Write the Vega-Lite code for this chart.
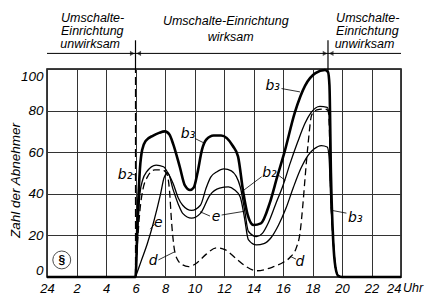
{
  "$schema": "https://vega.github.io/schema/vega-lite/v6.json",
  "width": 354,
  "height": 208,
  "autosize": {"type": "none"},
  "padding": {"left": 47, "top": 69, "right": 24, "bottom": 18},
  "background": "white",
  "config": {
    "view": {"stroke": "black", "strokeWidth": 1.5},
    "font": "Liberation Sans",
    "text": {"font": "Liberation Sans", "fontStyle": "italic", "fontSize": 13, "color": "black"},
    "axisX": {"labelOverlap": false, "labelBound": false, "labelFlush": false},
    "axis": {"labelOverlap": false}
  },
  "datasets": {
    "curves": [
      {"s": "b3", "h": 0, "v": 0}, {"s": "b3", "h": 6, "v": 0}, {"s": "b3", "h": 6.15, "v": 30}, {"s": "b3", "h": 6.3, "v": 52}, {"s": "b3", "h": 6.45, "v": 61}, {"s": "b3", "h": 6.7, "v": 65.5}, {"s": "b3", "h": 7.2, "v": 68}, {"s": "b3", "h": 7.6, "v": 69.3}, {"s": "b3", "h": 8, "v": 70}, {"s": "b3", "h": 8.3, "v": 68.5}, {"s": "b3", "h": 8.55, "v": 64}, {"s": "b3", "h": 9.0, "v": 53}, {"s": "b3", "h": 9.35, "v": 44}, {"s": "b3", "h": 9.7, "v": 41.8}, {"s": "b3", "h": 9.95, "v": 43}, {"s": "b3", "h": 10.2, "v": 50}, {"s": "b3", "h": 10.5, "v": 61}, {"s": "b3", "h": 10.8, "v": 66}, {"s": "b3", "h": 11.3, "v": 68}, {"s": "b3", "h": 11.8, "v": 68}, {"s": "b3", "h": 12.6, "v": 63}, {"s": "b3", "h": 12.95, "v": 58}, {"s": "b3", "h": 13.3, "v": 41}, {"s": "b3", "h": 13.6, "v": 30}, {"s": "b3", "h": 14.0, "v": 25}, {"s": "b3", "h": 14.5, "v": 25.8}, {"s": "b3", "h": 15.1, "v": 35.5}, {"s": "b3", "h": 15.6, "v": 48}, {"s": "b3", "h": 16.1, "v": 60}, {"s": "b3", "h": 16.8, "v": 79}, {"s": "b3", "h": 17.5, "v": 92}, {"s": "b3", "h": 18.2, "v": 98}, {"s": "b3", "h": 18.85, "v": 99.5}, {"s": "b3", "h": 19.05, "v": 98.5}, {"s": "b3", "h": 19.15, "v": 92}, {"s": "b3", "h": 19.25, "v": 50}, {"s": "b3", "h": 19.4, "v": 18}, {"s": "b3", "h": 19.55, "v": 5}, {"s": "b3", "h": 19.75, "v": 0.5}, {"s": "b3", "h": 20, "v": 0}, {"s": "b3", "h": 24, "v": 0},

      {"s": "b2", "h": 6, "v": 0}, {"s": "b2", "h": 6.15, "v": 22}, {"s": "b2", "h": 6.3, "v": 40}, {"s": "b2", "h": 6.5, "v": 47}, {"s": "b2", "h": 6.75, "v": 50.5}, {"s": "b2", "h": 7.4, "v": 53.8}, {"s": "b2", "h": 7.9, "v": 53}, {"s": "b2", "h": 8.2, "v": 50}, {"s": "b2", "h": 8.55, "v": 45}, {"s": "b2", "h": 8.9, "v": 38}, {"s": "b2", "h": 9.2, "v": 34.5}, {"s": "b2", "h": 9.8, "v": 32}, {"s": "b2", "h": 10.4, "v": 34.5}, {"s": "b2", "h": 10.8, "v": 43}, {"s": "b2", "h": 11.1, "v": 48}, {"s": "b2", "h": 11.5, "v": 50.5}, {"s": "b2", "h": 12.0, "v": 52}, {"s": "b2", "h": 12.5, "v": 51}, {"s": "b2", "h": 13.1, "v": 43.4}, {"s": "b2", "h": 13.4, "v": 32}, {"s": "b2", "h": 13.65, "v": 22}, {"s": "b2", "h": 14.2, "v": 19.4}, {"s": "b2", "h": 14.6, "v": 21}, {"s": "b2", "h": 15, "v": 26}, {"s": "b2", "h": 15.5, "v": 35}, {"s": "b2", "h": 16, "v": 44}, {"s": "b2", "h": 16.5, "v": 55}, {"s": "b2", "h": 17, "v": 65}, {"s": "b2", "h": 17.5, "v": 74}, {"s": "b2", "h": 17.9, "v": 79}, {"s": "b2", "h": 18.5, "v": 82}, {"s": "b2", "h": 19.0, "v": 81.5}, {"s": "b2", "h": 19.12, "v": 78}, {"s": "b2", "h": 19.22, "v": 45}, {"s": "b2", "h": 19.4, "v": 18}, {"s": "b2", "h": 19.55, "v": 5}, {"s": "b2", "h": 19.75, "v": 0.5}, {"s": "b2", "h": 20, "v": 0},

      {"s": "e", "h": 6, "v": 0}, {"s": "e", "h": 6.4, "v": 8}, {"s": "e", "h": 6.8, "v": 16}, {"s": "e", "h": 7.25, "v": 27}, {"s": "e", "h": 7.7, "v": 40}, {"s": "e", "h": 7.95, "v": 48}, {"s": "e", "h": 8.2, "v": 50}, {"s": "e", "h": 8.55, "v": 42}, {"s": "e", "h": 8.9, "v": 35}, {"s": "e", "h": 9.2, "v": 30.6}, {"s": "e", "h": 9.8, "v": 28.3}, {"s": "e", "h": 10.4, "v": 30.6}, {"s": "e", "h": 11.05, "v": 39.4}, {"s": "e", "h": 11.7, "v": 42.7}, {"s": "e", "h": 12.3, "v": 43.3}, {"s": "e", "h": 12.7, "v": 42}, {"s": "e", "h": 13.1, "v": 38.5}, {"s": "e", "h": 13.4, "v": 28}, {"s": "e", "h": 13.65, "v": 18}, {"s": "e", "h": 14.2, "v": 15.4}, {"s": "e", "h": 14.7, "v": 16}, {"s": "e", "h": 15.2, "v": 19}, {"s": "e", "h": 15.7, "v": 25}, {"s": "e", "h": 16.2, "v": 33}, {"s": "e", "h": 16.7, "v": 43}, {"s": "e", "h": 17.2, "v": 52}, {"s": "e", "h": 17.7, "v": 58.5}, {"s": "e", "h": 18.1, "v": 61.5}, {"s": "e", "h": 18.6, "v": 63.2}, {"s": "e", "h": 19.0, "v": 62.5}, {"s": "e", "h": 19.12, "v": 58}, {"s": "e", "h": 19.22, "v": 40}, {"s": "e", "h": 19.4, "v": 18}, {"s": "e", "h": 19.55, "v": 5}, {"s": "e", "h": 19.75, "v": 0.5}, {"s": "e", "h": 20, "v": 0},

      {"s": "d", "h": 6, "v": 0}, {"s": "d", "h": 6.15, "v": 18}, {"s": "d", "h": 6.3, "v": 32}, {"s": "d", "h": 6.5, "v": 42}, {"s": "d", "h": 6.8, "v": 48}, {"s": "d", "h": 7.3, "v": 51.5}, {"s": "d", "h": 7.8, "v": 51.5}, {"s": "d", "h": 8.1, "v": 50}, {"s": "d", "h": 8.3, "v": 42}, {"s": "d", "h": 8.45, "v": 26}, {"s": "d", "h": 8.6, "v": 15}, {"s": "d", "h": 8.8, "v": 9}, {"s": "d", "h": 9.2, "v": 5.8}, {"s": "d", "h": 9.6, "v": 5}, {"s": "d", "h": 10.2, "v": 7}, {"s": "d", "h": 10.8, "v": 11}, {"s": "d", "h": 11.5, "v": 14}, {"s": "d", "h": 12.1, "v": 13}, {"s": "d", "h": 12.8, "v": 9}, {"s": "d", "h": 13.5, "v": 5}, {"s": "d", "h": 14.2, "v": 3}, {"s": "d", "h": 15.3, "v": 4.8}, {"s": "d", "h": 16.0, "v": 7}, {"s": "d", "h": 16.5, "v": 9.6}, {"s": "d", "h": 16.9, "v": 14}, {"s": "d", "h": 17.15, "v": 21}, {"s": "d", "h": 17.35, "v": 35}, {"s": "d", "h": 17.5, "v": 48}, {"s": "d", "h": 17.7, "v": 64}, {"s": "d", "h": 17.95, "v": 78}, {"s": "d", "h": 18.3, "v": 80.3}, {"s": "d", "h": 18.8, "v": 80.8}, {"s": "d", "h": 19.05, "v": 80}, {"s": "d", "h": 19.12, "v": 76}, {"s": "d", "h": 19.22, "v": 45}, {"s": "d", "h": 19.4, "v": 18}, {"s": "d", "h": 19.55, "v": 5}, {"s": "d", "h": 19.75, "v": 0.5}, {"s": "d", "h": 20, "v": 0}
    ],
    "labels": [
      {"t": "b₃", "h": 9.56, "v": 68.6},
      {"t": "b₃", "h": 15.3, "v": 91.7},
      {"t": "b₃", "h": 20.9, "v": 28.3},
      {"t": "b₂", "h": 5.29, "v": 49},
      {"t": "b₂", "h": 15.08, "v": 50.2},
      {"t": "e", "h": 7.55, "v": 25.9},
      {"t": "e", "h": 11.46, "v": 28.8},
      {"t": "d", "h": 7.2, "v": 7.7},
      {"t": "d", "h": 17.15, "v": 7.2}
    ],
    "leaders": [
      {"h1": 10.03, "v1": 66.6, "h2": 10.71, "v2": 64.2},
      {"h1": 15.9, "v1": 90.6, "h2": 17.15, "v2": 89},
      {"h1": 19.33, "v1": 32, "h2": 20.3, "v2": 30.7},
      {"h1": 5.72, "v1": 49.5, "h2": 6.05, "v2": 49},
      {"h1": 14.55, "v1": 48.2, "h2": 13.2, "v2": 41},
      {"h1": 15.68, "v1": 49, "h2": 16.15, "v2": 46.5},
      {"h1": 7.0, "v1": 23, "h2": 7.3, "v2": 25.5},
      {"h1": 11.05, "v1": 29.3, "h2": 10.37, "v2": 31.4},
      {"h1": 11.84, "v1": 29.8, "h2": 13.3, "v2": 31.5},
      {"h1": 7.55, "v1": 8.2, "h2": 8.62, "v2": 12},
      {"h1": 16.88, "v1": 8.6, "h2": 16.47, "v2": 10}
    ],
    "header": [
      {"t": "Umschalte-", "h": 0.95, "v": 124.3},
      {"t": "Einrichtung", "h": 0.95, "v": 118.1},
      {"t": "unwirksam", "h": 0.9, "v": 111.9},
      {"t": "Umschalte-", "h": 19.6, "v": 124.3},
      {"t": "Einrichtung", "h": 19.6, "v": 118.1},
      {"t": "unwirksam", "h": 19.5, "v": 111.9},
      {"t": "Umschalte-Einrichtung", "h": 7.86, "v": 122.9},
      {"t": "wirksam", "h": 10.9, "v": 115.2}
    ],
    "arrows": [
      {"h": 5.78, "v": 107.5, "shape": "triangle-right"},
      {"h": 6.22, "v": 107.5, "shape": "triangle-left"},
      {"h": 18.85, "v": 107.5, "shape": "triangle-right"},
      {"h": 19.27, "v": 107.5, "shape": "triangle-left"}
    ],
    "vlines": [
      {"h": 6, "v1": 100, "v2": 113.8},
      {"h": 19.05, "v1": 99, "v2": 113.8}
    ]
  },
  "layer": [
    {
      "data": {"name": "curves"},
      "transform": [{"filter": "datum.s == 'b2'"}],
      "mark": {"type": "line", "interpolate": "monotone", "color": "black", "strokeWidth": 1.3},
      "encoding": {
        "x": {"field": "h", "type": "quantitative", "scale": {"domain": [0, 24], "nice": false, "zero": false},
          "axis": {"tickCount": 12, "title": null, "grid": true, "gridColor": "#333", "gridWidth": 1, "gridOpacity": 1, "ticks": false, "domain": false, "labelOverlap": false, "labelBound": false, "labelFlush": false,
            "labelAlign": {"condition": {"test": "datum.value == 24", "value": "right"}, "value": "center"},
            "labelExpr": "datum.value == 0 ? '24' : format(datum.value, 'd')", "labelFont": "Liberation Sans", "labelFontStyle": "italic", "labelFontSize": 13, "labelColor": "black", "labelPadding": 5}},
        "y": {"field": "v", "type": "quantitative", "scale": {"domain": [0, 100], "nice": false},
          "axis": {"values": [0, 20, 40, 60, 80, 100], "title": "Zahl der Abnehmer", "titleFont": "Liberation Sans", "titleFontStyle": "italic", "titleFontWeight": "normal", "titleFontSize": 13.5, "titleColor": "black", "titleX": -32, "titleY": 111, "titleBaseline": "middle", "titleAlign": "center",
            "grid": true, "gridColor": "#333", "gridWidth": 1, "gridOpacity": 1, "ticks": false, "domain": false, "labelFlush": true,
            "labelFont": "Liberation Sans", "labelFontStyle": "italic", "labelFontSize": 13.5, "labelColor": "black", "labelPadding": 4}}
      }
    },
    {
      "data": {"name": "curves"},
      "transform": [{"filter": "datum.s == 'e'"}],
      "mark": {"type": "line", "interpolate": "monotone", "color": "black", "strokeWidth": 1.3},
      "encoding": {"x": {"field": "h", "type": "quantitative"}, "y": {"field": "v", "type": "quantitative"}}
    },
    {
      "data": {"name": "curves"},
      "transform": [{"filter": "datum.s == 'd'"}],
      "mark": {"type": "line", "interpolate": "monotone", "color": "black", "strokeWidth": 1.3, "strokeDash": [7, 4]},
      "encoding": {"x": {"field": "h", "type": "quantitative"}, "y": {"field": "v", "type": "quantitative"}}
    },
    {
      "data": {"name": "curves"},
      "transform": [{"filter": "datum.s == 'b3'"}],
      "mark": {"type": "line", "interpolate": "monotone", "color": "black", "strokeWidth": 2.6},
      "encoding": {"x": {"field": "h", "type": "quantitative"}, "y": {"field": "v", "type": "quantitative"}}
    },
    {
      "data": {"values": [{"h": 6, "v1": 0, "v2": 100}]},
      "mark": {"type": "rule", "color": "black", "strokeWidth": 1.2, "strokeDash": [8, 4]},
      "encoding": {"x": {"field": "h", "type": "quantitative"}, "y": {"field": "v1", "type": "quantitative"}, "y2": {"field": "v2"}}
    },
    {
      "data": {"name": "vlines"},
      "mark": {"type": "rule", "color": "black", "strokeWidth": 1.2},
      "encoding": {"x": {"field": "h", "type": "quantitative"}, "y": {"field": "v1", "type": "quantitative"}, "y2": {"field": "v2"}}
    },
    {
      "data": {"values": [{"h1": 0, "h2": 24, "v": 107.5}]},
      "mark": {"type": "rule", "color": "black", "strokeWidth": 1},
      "encoding": {"x": {"field": "h1", "type": "quantitative"}, "x2": {"field": "h2"}, "y": {"field": "v", "type": "quantitative"}}
    },
    {
      "data": {"name": "arrows"},
      "mark": {"type": "point", "filled": true, "color": "black", "size": 28},
      "encoding": {"x": {"field": "h", "type": "quantitative"}, "y": {"field": "v", "type": "quantitative"}, "shape": {"field": "shape", "type": "nominal", "scale": null, "legend": null}}
    },
    {
      "data": {"name": "leaders"},
      "mark": {"type": "rule", "color": "black", "strokeWidth": 0.8},
      "encoding": {"x": {"field": "h1", "type": "quantitative"}, "x2": {"field": "h2"}, "y": {"field": "v1", "type": "quantitative"}, "y2": {"field": "v2"}}
    },
    {
      "data": {"name": "labels"},
      "mark": {"type": "text", "fontSize": 14, "font": "DejaVu Sans", "fontStyle": "italic", "baseline": "middle", "align": "center"},
      "encoding": {"x": {"field": "h", "type": "quantitative"}, "y": {"field": "v", "type": "quantitative"}, "text": {"field": "t"}}
    },
    {
      "data": {"name": "header"},
      "mark": {"type": "text", "fontSize": 12.5, "baseline": "middle", "align": "left"},
      "encoding": {"x": {"field": "h", "type": "quantitative"}, "y": {"field": "v", "type": "quantitative"}, "text": {"field": "t"}}
    },
    {
      "data": {"values": [{"t": "Uhr", "h": 24, "v": -5.3}]},
      "mark": {"type": "text", "fontSize": 12.5, "align": "left", "baseline": "middle", "dx": 2},
      "encoding": {"x": {"field": "h", "type": "quantitative"}, "y": {"field": "v", "type": "quantitative"}, "text": {"field": "t"}}
    },
    {
      "data": {"values": [{"h": 1.0, "v": 8.2}]},
      "mark": {"type": "point", "shape": "circle", "size": 320, "filled": false, "color": "black", "strokeWidth": 1},
      "encoding": {"x": {"field": "h", "type": "quantitative"}, "y": {"field": "v", "type": "quantitative"}}
    },
    {
      "data": {"values": [{"h": 1.0, "v": 8.2, "t": "§"}]},
      "mark": {"type": "text", "fontSize": 12, "baseline": "middle", "align": "center", "fontStyle": "normal", "fontWeight": "bold"},
      "encoding": {"x": {"field": "h", "type": "quantitative"}, "y": {"field": "v", "type": "quantitative"}, "text": {"field": "t"}}
    }
  ]
}
